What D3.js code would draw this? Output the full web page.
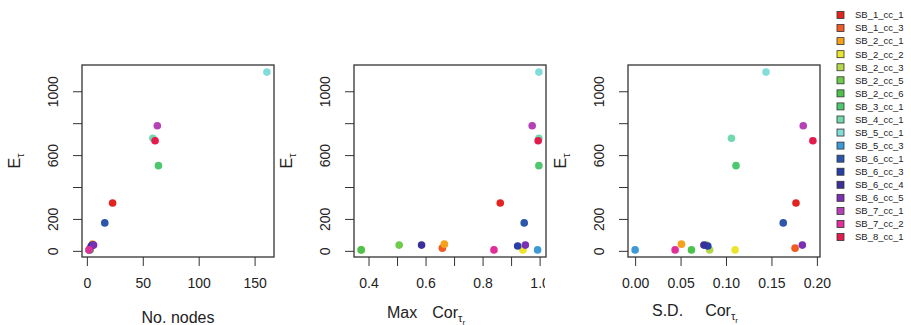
<!DOCTYPE html>
<html>
<head>
<meta charset="utf-8">
<script src="https://cdn.jsdelivr.net/npm/d3@7"></script>
<style>
  body { margin: 0; background: #fff; }
  text { font-family: "Liberation Sans", Arial, sans-serif; fill: #222; }
</style>
</head>
<body>
<script>
// samples, in legend / drawing order
const samples = ["SB_1_cc_1", "SB_1_cc_3", "SB_2_cc_1", "SB_2_cc_2", "SB_2_cc_3", "SB_2_cc_5",
  "SB_2_cc_6", "SB_3_cc_1", "SB_4_cc_1", "SB_5_cc_1", "SB_5_cc_3", "SB_6_cc_1",
  "SB_6_cc_3", "SB_6_cc_4", "SB_6_cc_5", "SB_7_cc_1", "SB_7_cc_2", "SB_8_cc_1"];
const sampleColors = ["#e3231f", "#f15a22", "#f7a11a", "#ece52b", "#b5d84a", "#6fcb4b",
  "#4ec24c", "#4fc76e", "#72d8ad", "#82dcd8", "#3d9ad6", "#2b56ab",
  "#2a3ea8", "#3b309a", "#7b2fb2", "#b640b6", "#e02f9b", "#e31a4c"];

// E_tau (shared y)
const eTau = [300, 17, 42, 6, 6, 36, 6, 534, 706, 1120, 6, 175, 30, 36, 36, 784, 6, 690];
// x variables
const noNodes = [23, 3, 5, 2, 2, 5, 3, 64, 59, 161, 2, 16, 4, 5, 6, 63, 2, 61];
const maxCor = [0.862, 0.659, 0.666, 0.9415, 0.375, 0.5075, 0.374, 0.9975, 0.9975, 0.9975,
  0.993, 0.946, 0.923, 0.586, 0.95, 0.974, 0.840, 0.995];
const sdCor = [0.177, 0.176, 0.051, 0.110, 0.082, 0.078, 0.062, 0.111, 0.106, 0.144,
  0.000, 0.163, 0.080, 0.0757, 0.184, 0.185, 0.044, 0.1956];

// ticks
const yTicks = [0, 200, 400, 600, 800, 1000];
const yTickLabels = [0, 200, 600, 1000];
const nodeTicks = [0, 50, 100, 150];
const maxTicks = [0.4, 0.5, 0.6, 0.7, 0.8, 0.9, 1.0];
const maxTickLabels = [0.4, 0.6, 0.8, 1.0];
const sdTicks = [0, 0.05, 0.1, 0.15, 0.2];

const width = 911, height = 325;
const plotTop = 65, plotW = 192, plotH = 192;

const svg = d3.select("body").append("svg")
  .attr("width", width)
  .attr("height", height);

// R style range: data extent padded 4%
function rRange(vals) {
  const [lo, hi] = d3.extent(vals);
  const pad = (hi - lo) * 0.04;
  return [lo - pad, hi + pad];
}

const panels = [
  { x: noNodes, left: 82, ticks: nodeTicks, labeled: nodeTicks, fmt: d3.format("d"),
    xlab: [{ t: "No. nodes" }], xlabX: 178, xlabY: 323, anchor: "middle" },
  { x: maxCor, left: 354, ticks: maxTicks, labeled: maxTickLabels, fmt: d3.format(".1f"), clip: 545,
    xlab: [{ t: "Max" }, { t: "Cor", dx: 15 }, { t: "τ", sub: 1 }, { t: "r", sub: 2 }],
    xlabX: 387, xlabY: 318, anchor: "start" },
  { x: sdCor, left: 628, ticks: sdTicks, labeled: sdTicks, fmt: d3.format(".2f"),
    xlab: [{ t: "S.D." }, { t: "Cor", dx: 22 }, { t: "τ", sub: 1 }, { t: "r", sub: 2 }],
    xlabX: 652, xlabY: 316, anchor: "start" }
];

const yScale = d3.scaleLinear().domain(rRange(eTau)).range([plotTop + plotH, plotTop]);

panels.forEach((p, k) => {
  const xScale = d3.scaleLinear().domain(rRange(p.x)).range([p.left, p.left + plotW]);
  const g = svg.append("g");

  // x axis
  const xAxis = d3.axisBottom(xScale)
    .tickValues(p.ticks)
    .tickSize(9)
    .tickPadding(12)
    .tickFormat((d) => p.labeled.some((v) => Math.abs(v - d) < 1e-9) ? p.fmt(d) : "");
  const xg = g.append("g")
    .attr("transform", `translate(0,${plotTop + plotH})`)
    .call(xAxis);
  xg.select(".domain").remove();
  xg.selectAll(".tick line").attr("stroke", "#333");
  xg.selectAll(".tick text").attr("font-size", 14).attr("fill", "#222")
    .attr("font-family", "Liberation Sans, Arial, sans-serif");
  if (p.clip) {
    const id = "clip" + k;
    svg.append("clipPath").attr("id", id)
      .attr("clipPathUnits", "userSpaceOnUse")
      .append("rect").attr("x", -1000).attr("y", -1000).attr("width", 1000 + p.clip).attr("height", 2000);
    xg.attr("clip-path", `url(#${id})`);
  }

  // y axis, labels rotated like R
  const yAxis = d3.axisLeft(yScale)
    .tickValues(yTicks)
    .tickSize(9)
    .tickFormat((d) => yTickLabels.includes(d) ? d : "");
  const yg = g.append("g")
    .attr("transform", `translate(${p.left},0)`)
    .call(yAxis);
  yg.select(".domain").remove();
  yg.selectAll(".tick line").attr("stroke", "#333");
  yg.selectAll(".tick text")
    .attr("font-size", 14).attr("fill", "#222")
    .attr("font-family", "Liberation Sans, Arial, sans-serif")
    .attr("x", null).attr("dy", null)
    .attr("text-anchor", "middle")
    .attr("transform", "translate(-24,0) rotate(-90)");

  // box
  g.append("rect")
    .attr("x", p.left).attr("y", plotTop)
    .attr("width", plotW).attr("height", plotH)
    .attr("fill", "none").attr("stroke", "#333").attr("stroke-width", 1.3);

  // points
  g.append("g").selectAll("circle")
    .data(d3.range(samples.length))
    .join("circle")
    .attr("cx", (i) => xScale(p.x[i]))
    .attr("cy", (i) => yScale(eTau[i]))
    .attr("r", 3.8)
    .attr("fill", (i) => sampleColors[i]);

  // y label E_tau
  const yl = g.append("text")
    .attr("transform", `translate(${p.left - 62},${plotTop + plotH / 2}) rotate(-90)`)
    .attr("text-anchor", "middle")
    .attr("font-size", 16);
  yl.append("tspan").text("E");
  yl.append("tspan").text("τ").attr("font-size", 11).attr("dy", 4);

  // x label
  const xl = g.append("text")
    .attr("x", p.xlabX).attr("y", p.xlabY)
    .attr("text-anchor", p.anchor)
    .attr("font-size", 16);
  let level = 0;
  p.xlab.forEach((s) => {
    const ts = xl.append("tspan").text(s.t);
    if (s.dx) ts.attr("dx", s.dx);
    const lv = s.sub || 0;
    if (lv === 1) ts.attr("font-size", 11);
    if (lv === 2) ts.attr("font-size", 8);
    const shift = (lv - level) * (lv === 2 || level === 2 ? 2.5 : 4);
    if (shift) ts.attr("dy", shift);
    level = lv;
  });
});

// legend
const legend = svg.append("g").attr("transform", "translate(837,15)");
const item = legend.selectAll("g")
  .data(samples)
  .join("g")
  .attr("transform", (d, i) => `translate(0,${i * 13.06})`);
item.append("rect")
  .attr("x", 0).attr("y", -3.5)
  .attr("width", 7).attr("height", 7)
  .attr("fill", (d, i) => sampleColors[i])
  .attr("stroke", "#333").attr("stroke-width", 0.8);
item.append("text")
  .attr("x", 18).attr("dy", "0.35em")
  .attr("font-size", 9.5)
  .attr("fill", "#333")
  .text((d) => d);
</script>
</body>
</html>
